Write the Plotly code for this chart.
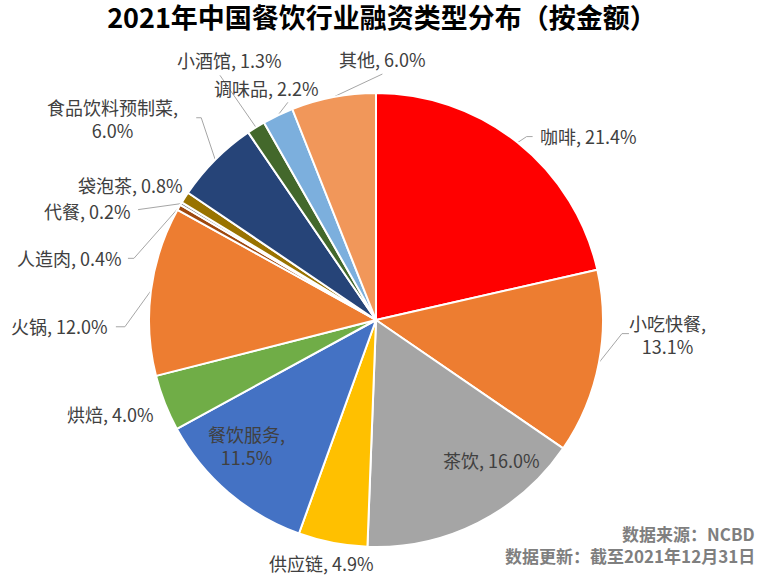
import math
import plotly.graph_objects as go

# data
categories = ['咖啡', '小吃快餐', '茶饮', '供应链', '餐饮服务', '烘焙', '火锅',
              '人造肉', '代餐', '袋泡茶', '食品饮料预制菜', '小酒馆', '调味品', '其他']
shares = [21.4, 13.1, 16.0, 4.9, 11.5, 4.0, 12.0, 0.4, 0.2, 0.8, 6.0, 1.3, 2.2, 6.0]
colors = ['#FF0000', '#ED7D31', '#A5A5A5', '#FFC000', '#4472C4', '#70AD47', '#ED7D31',
          '#9E480E', '#7F7F7F', '#997300', '#264478', '#43682B', '#7CAFDD', '#F1975A']

title = '2021年中国餐饮行业融资类型分布（按金额）'
source_lines = ['数据来源：NCBD', '数据更新：截至2021年12月31日']

W, H = 764, 577
cx, cy, R = 376, 320, 227

# label placement relative to the slice-edge anchor (pixels):
# text offset, xanchor, line break, leader path offsets
label_style = {
    '咖啡': dict(off=(20, -7), xa='left', br=False, lead=[(9, -6), (15, -6)]),
    '小吃快餐': dict(off=(69, -28), xa='center', br=True, lead=[(23, -29), (30, -29)]),
    '茶饮': dict(off=(14, -63), xa='center', br=False, lead=None),
    '供应链': dict(off=(-11, 20), xa='center', br=False, lead=None),
    '餐饮服务': dict(off=(18, -47), xa='center', br=True, lead=None),
    '烘焙': dict(off=(-9, 11), xa='right', br=False, lead=None),
    '火锅': dict(off=(-41, 35), xa='right', br=False, lead=[(-26, 36), (-35, 36)]),
    '人造肉': dict(off=(-55, 51), xa='right', br=False, lead=[(-45, 51), (-51, 51)]),
    '代餐': dict(off=(-48, 7), xa='right', br=False, lead=[(-43, 6)]),
    '袋泡茶': dict(off=(0, -13), xa='right', br=False, lead=None),
    '食品饮料预制菜': dict(off=(-103, -41), xa='center', br=True, lead=[(-14, -42), (-19, -42)]),
    '小酒馆': dict(off=(-26, -67), xa='center', br=False, lead=[(-36, -52)]),
    '调味品': dict(off=(-11, -27), xa='center', br=False, lead=[(10, -13)]),
    '其他': dict(off=(49, -38), xa='center', br=False, lead=[(49, -23)]),
}

fig = go.Figure()

fig.add_trace(go.Pie(
    labels=categories,
    values=shares,
    sort=False,
    direction='clockwise',
    rotation=0,
    marker=dict(colors=colors, line=dict(color='white', width=2)),
    textinfo='none',
    hoverinfo='skip',
    showlegend=False,
    domain=dict(x=[(cx - R) / W, (cx + R) / W],
                y=[1 - (cy + R) / H, 1 - (cy - R) / H]),
))

# anchors on the pie rim at each slice's mid angle
total = sum(shares)
cum = 0
annotations = []
for name, v in zip(categories, shares):
    mid = (cum + v / 2) / total * 2 * math.pi
    cum += v
    ax_ = cx + R * math.sin(mid)
    ay_ = cy - R * math.cos(mid)
    st = label_style[name]
    sep = ',<br>' if st['br'] else ', '
    annotations.append(dict(
        x=ax_ + st['off'][0], y=ay_ + st['off'][1], xref='x', yref='y',
        text=f'{name}{sep}{v:.1f}%', showarrow=False,
        xanchor=st['xa'], yanchor='middle', align='center',
        font=dict(size=18, color='#404040', family='Noto Sans CJK SC'),
    ))
    if st['lead']:
        xs = [ax_] + [ax_ + p[0] for p in st['lead']]
        ys = [ay_] + [ay_ + p[1] for p in st['lead']]
        fig.add_trace(go.Scatter(x=xs, y=ys, mode='lines',
                                 line=dict(color='#A6A6A6', width=1),
                                 hoverinfo='skip', showlegend=False))

for i, line in enumerate(source_lines):
    annotations.append(dict(
        x=757, y=533 + 22 * i, xref='x', yref='y', text=f'<b>{line}</b>',
        showarrow=False, xanchor='right', yanchor='middle',
        font=dict(size=17, color='#7F7F7F', family='Noto Sans CJK SC'),
    ))

fig.update_layout(
    width=W, height=H,
    margin=dict(l=0, r=0, t=0, b=0),
    paper_bgcolor='white', plot_bgcolor='white',
    title=dict(text=f'<b>{title}</b>', x=0.5, xanchor='center',
               y=1 - 19 / H, yanchor='middle',
               font=dict(size=27, color='black', family='Noto Sans CJK SC')),
    xaxis=dict(range=[0, W], visible=False, fixedrange=True),
    yaxis=dict(range=[H, 0], visible=False, fixedrange=True),
    annotations=annotations,
)

# drop the browser's default body margin so the figure sits at the top-left corner
fig.write_html('out.html', config={'displayModeBar': False},
               post_script="document.body.style.margin='0';")
